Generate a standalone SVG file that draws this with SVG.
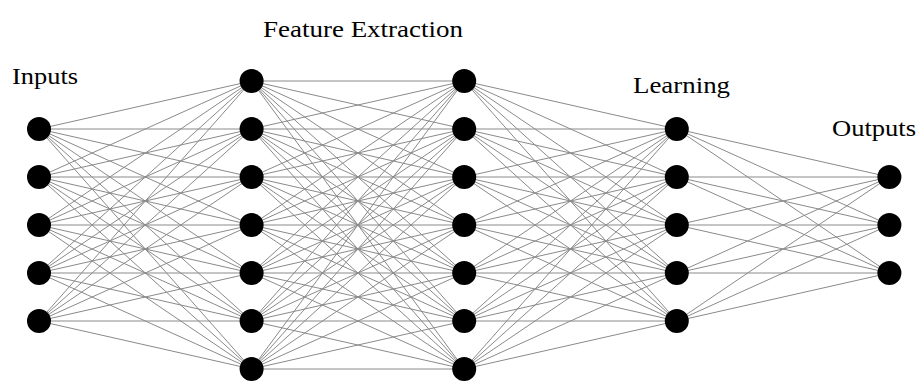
<svg xmlns="http://www.w3.org/2000/svg" width="921" height="381" viewBox="0 0 921 381">
<style>
.lbl{font-family:'Liberation Serif','DejaVu Serif',serif;font-size:23px;fill:#000}
.c line{stroke:#8a8a8a;stroke-width:1}
.n circle{fill:#000}
</style>
<rect width="921" height="381" fill="#fff"/>
<g id="connectors" class="c">
<line x1="39" y1="129" x2="251.6" y2="81"/><line x1="39" y1="129" x2="251.6" y2="129"/><line x1="39" y1="129" x2="251.6" y2="177"/><line x1="39" y1="129" x2="251.6" y2="225"/><line x1="39" y1="129" x2="251.6" y2="273"/><line x1="39" y1="129" x2="251.6" y2="321"/><line x1="39" y1="129" x2="251.6" y2="369"/>
<line x1="39" y1="177" x2="251.6" y2="81"/><line x1="39" y1="177" x2="251.6" y2="129"/><line x1="39" y1="177" x2="251.6" y2="177"/><line x1="39" y1="177" x2="251.6" y2="225"/><line x1="39" y1="177" x2="251.6" y2="273"/><line x1="39" y1="177" x2="251.6" y2="321"/><line x1="39" y1="177" x2="251.6" y2="369"/>
<line x1="39" y1="225" x2="251.6" y2="81"/><line x1="39" y1="225" x2="251.6" y2="129"/><line x1="39" y1="225" x2="251.6" y2="177"/><line x1="39" y1="225" x2="251.6" y2="225"/><line x1="39" y1="225" x2="251.6" y2="273"/><line x1="39" y1="225" x2="251.6" y2="321"/><line x1="39" y1="225" x2="251.6" y2="369"/>
<line x1="39" y1="273" x2="251.6" y2="81"/><line x1="39" y1="273" x2="251.6" y2="129"/><line x1="39" y1="273" x2="251.6" y2="177"/><line x1="39" y1="273" x2="251.6" y2="225"/><line x1="39" y1="273" x2="251.6" y2="273"/><line x1="39" y1="273" x2="251.6" y2="321"/><line x1="39" y1="273" x2="251.6" y2="369"/>
<line x1="39" y1="321" x2="251.6" y2="81"/><line x1="39" y1="321" x2="251.6" y2="129"/><line x1="39" y1="321" x2="251.6" y2="177"/><line x1="39" y1="321" x2="251.6" y2="225"/><line x1="39" y1="321" x2="251.6" y2="273"/><line x1="39" y1="321" x2="251.6" y2="321"/><line x1="39" y1="321" x2="251.6" y2="369"/>
<line x1="251.6" y1="81" x2="464.2" y2="81"/><line x1="251.6" y1="81" x2="464.2" y2="129"/><line x1="251.6" y1="81" x2="464.2" y2="177"/><line x1="251.6" y1="81" x2="464.2" y2="225"/><line x1="251.6" y1="81" x2="464.2" y2="273"/><line x1="251.6" y1="81" x2="464.2" y2="321"/><line x1="251.6" y1="81" x2="464.2" y2="369"/>
<line x1="251.6" y1="129" x2="464.2" y2="81"/><line x1="251.6" y1="129" x2="464.2" y2="129"/><line x1="251.6" y1="129" x2="464.2" y2="177"/><line x1="251.6" y1="129" x2="464.2" y2="225"/><line x1="251.6" y1="129" x2="464.2" y2="273"/><line x1="251.6" y1="129" x2="464.2" y2="321"/><line x1="251.6" y1="129" x2="464.2" y2="369"/>
<line x1="251.6" y1="177" x2="464.2" y2="81"/><line x1="251.6" y1="177" x2="464.2" y2="129"/><line x1="251.6" y1="177" x2="464.2" y2="177"/><line x1="251.6" y1="177" x2="464.2" y2="225"/><line x1="251.6" y1="177" x2="464.2" y2="273"/><line x1="251.6" y1="177" x2="464.2" y2="321"/><line x1="251.6" y1="177" x2="464.2" y2="369"/>
<line x1="251.6" y1="225" x2="464.2" y2="81"/><line x1="251.6" y1="225" x2="464.2" y2="129"/><line x1="251.6" y1="225" x2="464.2" y2="177"/><line x1="251.6" y1="225" x2="464.2" y2="225"/><line x1="251.6" y1="225" x2="464.2" y2="273"/><line x1="251.6" y1="225" x2="464.2" y2="321"/><line x1="251.6" y1="225" x2="464.2" y2="369"/>
<line x1="251.6" y1="273" x2="464.2" y2="81"/><line x1="251.6" y1="273" x2="464.2" y2="129"/><line x1="251.6" y1="273" x2="464.2" y2="177"/><line x1="251.6" y1="273" x2="464.2" y2="225"/><line x1="251.6" y1="273" x2="464.2" y2="273"/><line x1="251.6" y1="273" x2="464.2" y2="321"/><line x1="251.6" y1="273" x2="464.2" y2="369"/>
<line x1="251.6" y1="321" x2="464.2" y2="81"/><line x1="251.6" y1="321" x2="464.2" y2="129"/><line x1="251.6" y1="321" x2="464.2" y2="177"/><line x1="251.6" y1="321" x2="464.2" y2="225"/><line x1="251.6" y1="321" x2="464.2" y2="273"/><line x1="251.6" y1="321" x2="464.2" y2="321"/><line x1="251.6" y1="321" x2="464.2" y2="369"/>
<line x1="251.6" y1="369" x2="464.2" y2="81"/><line x1="251.6" y1="369" x2="464.2" y2="129"/><line x1="251.6" y1="369" x2="464.2" y2="177"/><line x1="251.6" y1="369" x2="464.2" y2="225"/><line x1="251.6" y1="369" x2="464.2" y2="273"/><line x1="251.6" y1="369" x2="464.2" y2="321"/><line x1="251.6" y1="369" x2="464.2" y2="369"/>
<line x1="464.2" y1="81" x2="676.8" y2="129"/><line x1="464.2" y1="81" x2="676.8" y2="177"/><line x1="464.2" y1="81" x2="676.8" y2="225"/><line x1="464.2" y1="81" x2="676.8" y2="273"/><line x1="464.2" y1="81" x2="676.8" y2="321"/>
<line x1="464.2" y1="129" x2="676.8" y2="129"/><line x1="464.2" y1="129" x2="676.8" y2="177"/><line x1="464.2" y1="129" x2="676.8" y2="225"/><line x1="464.2" y1="129" x2="676.8" y2="273"/><line x1="464.2" y1="129" x2="676.8" y2="321"/>
<line x1="464.2" y1="177" x2="676.8" y2="129"/><line x1="464.2" y1="177" x2="676.8" y2="177"/><line x1="464.2" y1="177" x2="676.8" y2="225"/><line x1="464.2" y1="177" x2="676.8" y2="273"/><line x1="464.2" y1="177" x2="676.8" y2="321"/>
<line x1="464.2" y1="225" x2="676.8" y2="129"/><line x1="464.2" y1="225" x2="676.8" y2="177"/><line x1="464.2" y1="225" x2="676.8" y2="225"/><line x1="464.2" y1="225" x2="676.8" y2="273"/><line x1="464.2" y1="225" x2="676.8" y2="321"/>
<line x1="464.2" y1="273" x2="676.8" y2="129"/><line x1="464.2" y1="273" x2="676.8" y2="177"/><line x1="464.2" y1="273" x2="676.8" y2="225"/><line x1="464.2" y1="273" x2="676.8" y2="273"/><line x1="464.2" y1="273" x2="676.8" y2="321"/>
<line x1="464.2" y1="321" x2="676.8" y2="129"/><line x1="464.2" y1="321" x2="676.8" y2="177"/><line x1="464.2" y1="321" x2="676.8" y2="225"/><line x1="464.2" y1="321" x2="676.8" y2="273"/><line x1="464.2" y1="321" x2="676.8" y2="321"/>
<line x1="464.2" y1="369" x2="676.8" y2="129"/><line x1="464.2" y1="369" x2="676.8" y2="177"/><line x1="464.2" y1="369" x2="676.8" y2="225"/><line x1="464.2" y1="369" x2="676.8" y2="273"/><line x1="464.2" y1="369" x2="676.8" y2="321"/>
<line x1="676.8" y1="129" x2="889.4" y2="177"/><line x1="676.8" y1="129" x2="889.4" y2="225"/><line x1="676.8" y1="129" x2="889.4" y2="273"/>
<line x1="676.8" y1="177" x2="889.4" y2="177"/><line x1="676.8" y1="177" x2="889.4" y2="225"/><line x1="676.8" y1="177" x2="889.4" y2="273"/>
<line x1="676.8" y1="225" x2="889.4" y2="177"/><line x1="676.8" y1="225" x2="889.4" y2="225"/><line x1="676.8" y1="225" x2="889.4" y2="273"/>
<line x1="676.8" y1="273" x2="889.4" y2="177"/><line x1="676.8" y1="273" x2="889.4" y2="225"/><line x1="676.8" y1="273" x2="889.4" y2="273"/>
<line x1="676.8" y1="321" x2="889.4" y2="177"/><line x1="676.8" y1="321" x2="889.4" y2="225"/><line x1="676.8" y1="321" x2="889.4" y2="273"/>
</g>
<g id="layer-inputs" class="n">
<circle id="i1" cx="39" cy="129" r="12"/><circle id="i2" cx="39" cy="177" r="12"/><circle id="i3" cx="39" cy="225" r="12"/><circle id="i4" cx="39" cy="273" r="12"/><circle id="i5" cx="39" cy="321" r="12"/>
</g>
<g id="layer-feature1" class="n">
<circle id="f1" cx="251.6" cy="81" r="12"/><circle id="f2" cx="251.6" cy="129" r="12"/><circle id="f3" cx="251.6" cy="177" r="12"/><circle id="f4" cx="251.6" cy="225" r="12"/><circle id="f5" cx="251.6" cy="273" r="12"/><circle id="f6" cx="251.6" cy="321" r="12"/><circle id="f7" cx="251.6" cy="369" r="12"/>
</g>
<g id="layer-feature2" class="n">
<circle id="g1" cx="464.2" cy="81" r="12"/><circle id="g2" cx="464.2" cy="129" r="12"/><circle id="g3" cx="464.2" cy="177" r="12"/><circle id="g4" cx="464.2" cy="225" r="12"/><circle id="g5" cx="464.2" cy="273" r="12"/><circle id="g6" cx="464.2" cy="321" r="12"/><circle id="g7" cx="464.2" cy="369" r="12"/>
</g>
<g id="layer-learning" class="n">
<circle id="l1" cx="676.8" cy="129" r="12"/><circle id="l2" cx="676.8" cy="177" r="12"/><circle id="l3" cx="676.8" cy="225" r="12"/><circle id="l4" cx="676.8" cy="273" r="12"/><circle id="l5" cx="676.8" cy="321" r="12"/>
</g>
<g id="layer-outputs" class="n">
<circle id="o1" cx="889.4" cy="177" r="12"/><circle id="o2" cx="889.4" cy="225" r="12"/><circle id="o3" cx="889.4" cy="273" r="12"/>
</g>
<g id="labels">
<text class="lbl" x="12" y="84" textLength="66" lengthAdjust="spacingAndGlyphs">Inputs</text>
<text class="lbl" x="263" y="37" textLength="200" lengthAdjust="spacingAndGlyphs">Feature Extraction</text>
<text class="lbl" x="633" y="93" textLength="97" lengthAdjust="spacingAndGlyphs">Learning</text>
<text class="lbl" x="832" y="136" textLength="84" lengthAdjust="spacingAndGlyphs">Outputs</text>
</g>
</svg>
